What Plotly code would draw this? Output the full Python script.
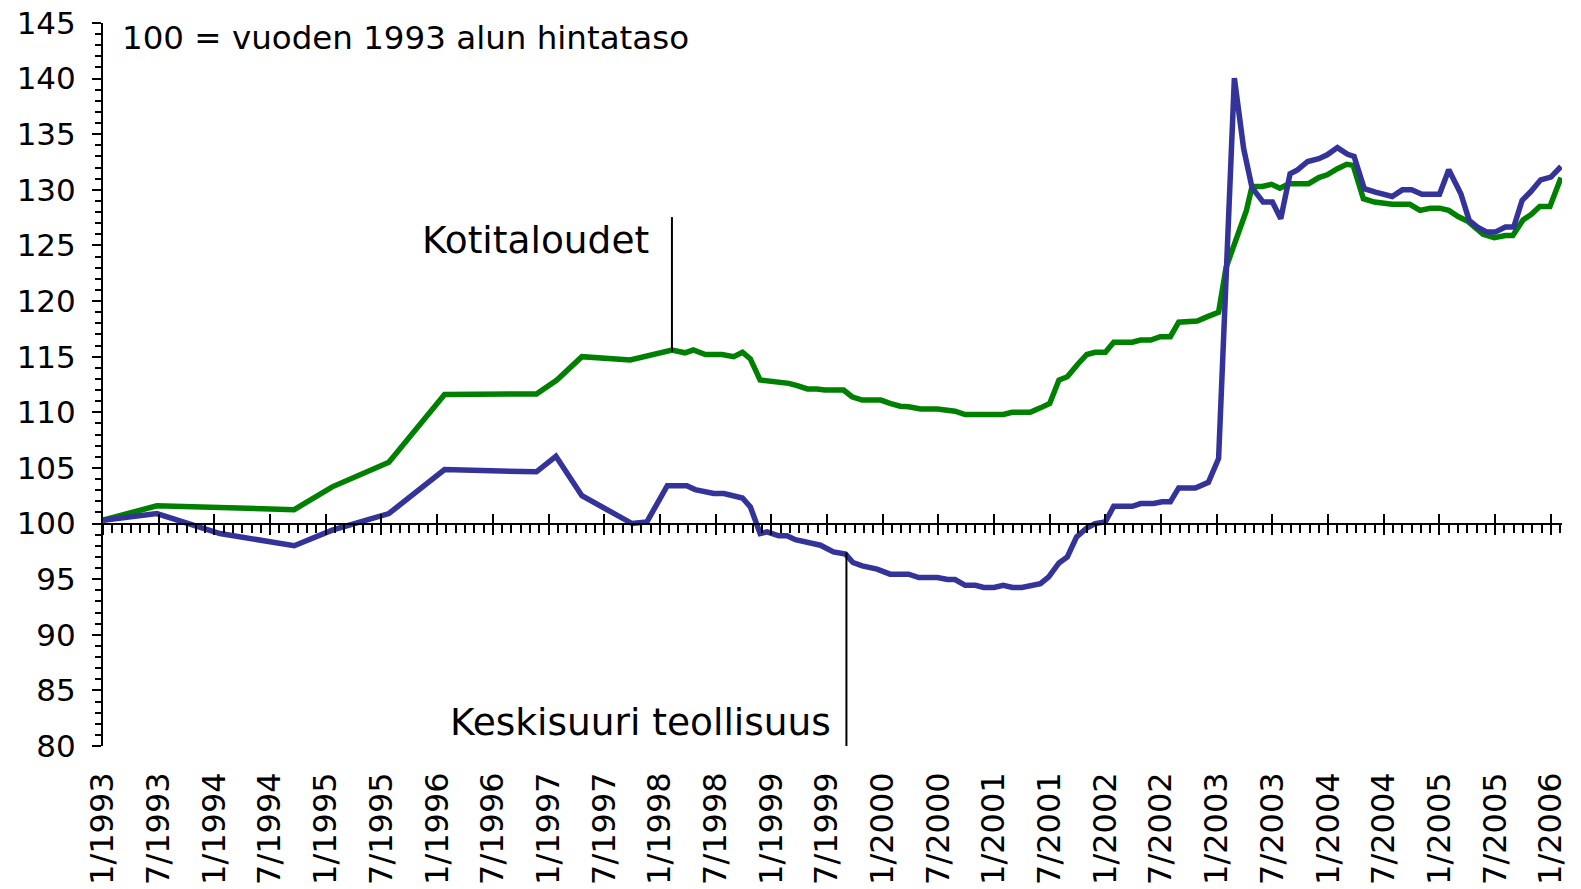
import plotly.graph_objects as go

# months since 1/1993 and index values
koti_month = [0, 5.8, 20.6, 24.7, 30.8, 36.8, 46.7, 48.9, 51.6, 56.8, 61.3, 62.7, 63.6, 64.9,
              66.7, 67.95, 68.9, 69.75, 70.8, 71.9, 73.0, 73.9, 74.8, 75.9, 76.9, 77.8, 79.8,
              80.7, 81.8, 83.8, 84.8, 85.9, 86.8, 88.1, 89.9, 91.0, 91.8, 92.9, 97.0, 97.95,
              99.9, 101.0, 102.0, 103.0, 103.9, 105.0, 106.0, 106.9, 108.0, 108.9, 110.9,
              111.8, 112.9, 113.9, 115.0, 115.9, 117.2, 117.9, 119.0, 120.2, 121.0, 123.2,
              123.8, 124.9, 125.9, 126.8, 127.8, 129.9, 131.0, 131.9, 133.0, 134.0, 134.7,
              135.8, 137.0, 138.9, 140.8, 141.9, 143.0, 144.0, 145.0, 146.0, 147.1, 148.7,
              149.9, 151.1, 151.9, 153.0, 153.9, 154.8, 155.9, 157.1]
koti_value = [100.3, 101.6, 101.25, 103.3, 105.5, 111.6, 111.65, 112.9, 115.0, 114.7, 115.6,
              115.35, 115.6, 115.2, 115.2, 115.0, 115.4, 114.8, 112.9, 112.8, 112.6, 112.6,
              112.4, 112.1, 112.1, 112.0, 112.0, 111.4, 111.1, 111.1, 110.8, 110.55, 110.5,
              110.3, 110.3, 110.2, 110.1, 109.8, 109.8, 110.0, 110.0, 110.4, 110.8, 112.9,
              113.2, 114.3, 115.2, 115.4, 115.4, 116.3, 116.3, 116.5, 116.5, 116.8, 116.8,
              118.1, 118.1, 118.2, 118.6, 119.0, 123.0, 128.15, 130.3, 130.3, 130.5, 130.15,
              130.55, 130.55, 131.1, 131.35, 131.9, 132.3, 132.2, 129.2, 128.9, 128.7, 128.7,
              128.15, 128.35, 128.35, 128.15, 127.6, 127.15, 126.0, 125.7, 125.9, 125.9,
              127.3, 127.8, 128.5, 128.5, 131.1]

teoll_month = [0, 5.8, 12.6, 20.6, 24.7, 30.8, 36.8, 46.7, 48.8, 51.6, 57.0, 58.6, 60.8, 62.9,
               63.8, 65.8, 66.9, 68.9, 69.75, 70.8, 71.55, 72.8, 73.7, 74.6, 77.3, 78.7, 80.0,
               80.8, 81.8, 83.4, 84.8, 86.8, 87.9, 89.9, 91.0, 91.8, 92.9, 94.0, 94.9, 96.0,
               97.0, 98.0, 99.0, 99.9, 101.0, 101.9, 103.0, 103.9, 104.9, 106.0, 106.9, 108.0,
               108.9, 110.9, 111.8, 113.2, 114.1, 115.0, 115.9, 117.7, 119.1, 120.2, 121.9,
               122.9, 123.8, 125.0, 126.0, 126.9, 127.9, 128.7, 129.8, 131.0, 131.9, 133.0,
               134.1, 134.8, 135.9, 137.1, 138.9, 140.0, 141.0, 142.1, 144.0, 145.0, 146.3,
               147.2, 148.1, 149.1, 150.0, 151.1, 152.0, 152.9, 153.8, 154.9, 156.0, 157.1]
teoll_value = [100.3, 100.9, 99.1, 98.0, 99.4, 100.9, 104.85, 104.65, 106.05, 102.5, 100.0,
               100.15, 103.4, 103.4, 103.05, 102.7, 102.7, 102.3, 101.5, 99.1, 99.25, 98.9,
               98.9, 98.55, 98.05, 97.45, 97.25, 96.5, 96.2, 95.9, 95.45, 95.45, 95.15, 95.15,
               94.97, 94.97, 94.45, 94.45, 94.25, 94.25, 94.45, 94.25, 94.25, 94.4, 94.6, 95.2,
               96.46, 97.0, 98.8, 99.6, 100.0, 100.15, 101.55, 101.55, 101.8, 101.8, 101.95,
               101.95, 103.2, 103.2, 103.7, 105.85, 140.05, 133.7, 130.2, 128.9, 128.9, 127.4,
               131.45, 131.8, 132.55, 132.8, 133.15, 133.8, 133.2, 133.0, 130.1, 129.8, 129.4,
               130.0, 130.0, 129.6, 129.6, 131.8, 129.65, 127.25, 126.65, 126.2, 126.2, 126.65,
               126.65, 129.05, 129.8, 130.9, 131.15, 132.1]

tick_months = list(range(0, 157, 6))
tick_labels = [f"{1 if i % 2 == 0 else 7}/{1993 + i // 2}" for i in range(len(tick_months))]

x_range = [0, 157.2]
y_range = [80, 145]
cross_pos = (100 - y_range[0]) / (y_range[1] - y_range[0])

fig = go.Figure()
fig.add_trace(go.Scatter(x=koti_month, y=koti_value, mode="lines",
                         line=dict(color="#008000", width=5.5), name="Kotitaloudet"))
fig.add_trace(go.Scatter(x=teoll_month, y=teoll_value, mode="lines",
                         line=dict(color="#333399", width=5.5), name="Keskisuuri teollisuus"))
# helper traces so the extra x axes get drawn
for ax in ["x2", "x3"]:
    fig.add_trace(go.Scatter(x=tick_months, y=[None] * len(tick_months), xaxis=ax,
                             showlegend=False, hoverinfo="skip"))

fig.update_layout(
    width=1581, height=889,
    margin=dict(l=103, r=19, t=22.5, b=143),
    paper_bgcolor="white", plot_bgcolor="white",
    showlegend=False,
    font=dict(family="DejaVu Sans", color="black"),
    xaxis=dict(range=x_range, anchor="free", position=cross_pos, side="bottom",
               showline=True, linecolor="black", linewidth=2, automargin=False,
               tickmode="linear", tick0=0, dtick=6, ticks="outside", ticklen=10,
               tickwidth=2, tickcolor="black", showticklabels=False,
               minor=dict(dtick=1, tick0=0, ticks="outside", ticklen=8, tickwidth=2,
                          tickcolor="black", showgrid=False),
               showgrid=False, zeroline=False),
    xaxis3=dict(range=x_range, overlaying="x", anchor="free", position=cross_pos,
                side="bottom", showline=False, tickmode="linear", tick0=0, dtick=6,
                ticks="inside", ticklen=10, tickwidth=2, tickcolor="black", automargin=False,
                showticklabels=False, showgrid=False, zeroline=False),
    xaxis2=dict(range=x_range, overlaying="x", anchor="y", side="bottom", showline=False,
                tickmode="array", tickvals=tick_months, ticktext=tick_labels,
                tickangle=-90, ticks="", ticklabelstandoff=19, automargin=False,
                ticklabeloverflow="allow",
                tickfont=dict(family="DejaVu Sans", size=32, color="black"),
                showgrid=False, zeroline=False),
    yaxis=dict(range=y_range, showline=True, linecolor="black", linewidth=2,
               tickmode="linear", tick0=80, dtick=5, ticks="outside", ticklen=9,
               tickwidth=2, tickcolor="black", ticklabelstandoff=10, automargin=False,
               ticklabeloverflow="allow",
               tickfont=dict(family="DejaVu Sans", size=31, color="black"),
               minor=dict(dtick=1, tick0=80, ticks="outside", ticklen=6, tickwidth=2,
                          tickcolor="black", showgrid=False),
               showgrid=False, zeroline=False),
)

fig.add_annotation(x=1.85, y=143.65, xref="x", yref="y", text="100 = vuoden 1993 alun hintataso",
                   showarrow=False, xanchor="left", yanchor="middle",
                   font=dict(family="DejaVu Sans", size=32.5, color="black"))
fig.add_annotation(x=59.0, y=125.45, xref="x", yref="y", text="Kotitaloudet",
                   showarrow=False, xanchor="right", yanchor="middle",
                   font=dict(family="DejaVu Sans", size=37.5, color="black"))
fig.add_annotation(x=78.6, y=82.15, xref="x", yref="y", text="Keskisuuri teollisuus",
                   showarrow=False, xanchor="right", yanchor="middle",
                   font=dict(family="DejaVu Sans", size=37.5, color="black"))
fig.add_shape(type="line", xref="x", yref="y", x0=61.3, x1=61.3, y0=115.45, y1=127.55,
              line=dict(color="black", width=2))
fig.add_shape(type="line", xref="x", yref="y", x0=80.1, x1=80.1, y0=80, y1=97.4,
              line=dict(color="black", width=2))

fig.write_html("out.html", config={"displayModeBar": False})

# drop the browser's default 8px body margin so the figure fills the window exactly
with open("out.html", encoding="utf-8") as f:
    page = f.read()
page = page.replace("<body>", '<body style="margin:0;overflow:hidden">', 1)
with open("out.html", "w", encoding="utf-8") as f:
    f.write(page)
